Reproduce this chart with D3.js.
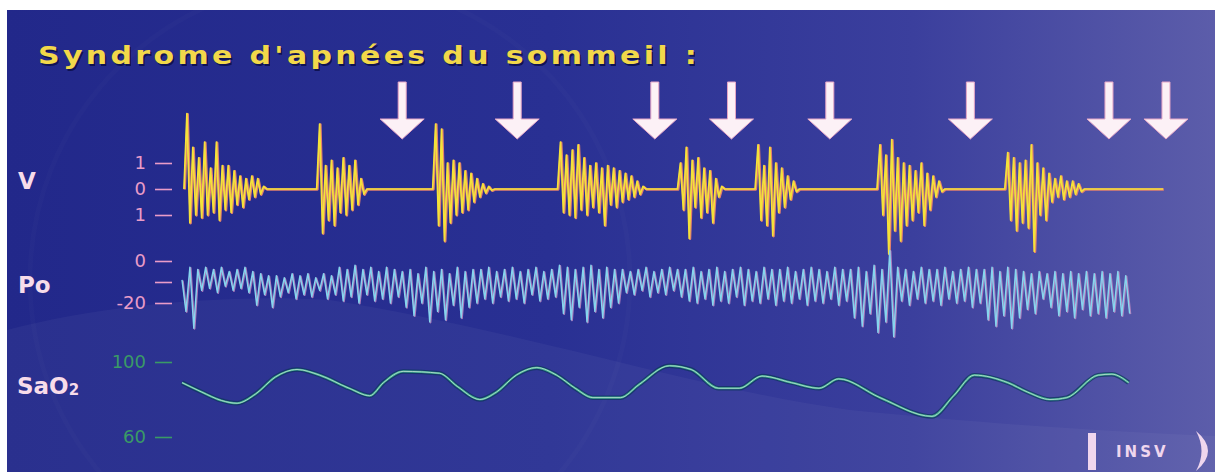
<!DOCTYPE html>
<html>
<head>
<meta charset="utf-8">
<style>
    body { margin: 0; background: #ffffff; }
    text { font-family: "DejaVu Sans", Verdana, sans-serif; }
    .axis path.domain { display: none; }
</style>
</head>
<body>
<svg width="1215" height="472" id="chart"></svg>

<script charset="utf-8" src="https://cdn.jsdelivr.net/npm/d3@7/dist/d3.min.js"></script>
<script charset="utf-8">

// time in seconds along the recording
var title = "Syndrome d'apnées du sommeil :";

// ventilation bursts (V): start time and samples taken every 0.3 s
var burstStart = [0.2, 13.7, 25.5, 38.2, 50.4, 58.3, 70.7, 83.7];
var burstStep = 0.3;
var burstValues = [
    [0, 2.9, -1.3, 1.6, -1.0, 1.2, -1.1, 1.8, -1.0, 0.8, -0.9, 1.8, -1.2, 0.9, -0.8, 0.9, -0.9, 0.7, -0.6, 0.5, -0.7, 0.4, -0.4, 0.5, -0.3, 0.4, -0.2, 0.1, 0],
    [0, 2.5, -1.7, 0.9, -1.2, 1.1, -1.4, 0.8, -0.9, 1.2, -1.0, 0.9, -0.8, 1.1, -0.6, 0.4, -0.2, 0],
    [0, 2.5, -1.4, 2.3, -2.0, 1.0, -1.3, 1.1, -1.0, 1.0, -0.9, 0.7, -0.8, 0.6, -0.5, 0.4, -0.3, 0.2, -0.15, 0.1, -0.05, 0],
    [0, 1.8, -0.9, 1.3, -1.0, 1.5, -1.1, 1.7, -0.8, 1.2, -1.0, 0.9, -0.7, 1.0, -0.9, 0.8, -1.4, 0.9, -0.6, 0.8, -0.7, 0.7, -0.5, 0.6, -0.4, 0.5, -0.3, 0.3, -0.2, 0.1, 0],
    [0, 1.0, -0.8, 1.6, -1.9, 1.1, -0.7, 1.2, -1.1, 0.8, -0.9, 0.7, -1.3, 0.4, -0.3, 0.1, 0],
    [0, 1.7, -1.2, 0.9, -1.4, 1.6, -1.8, 1.0, -0.9, 0.8, -0.7, 0.5, -0.4, 0.3, -0.1, 0],
    [0, 1.7, -1.0, 1.3, -2.5, 1.9, -1.6, 1.2, -2.0, 1.0, -1.4, 0.9, -1.2, 0.7, -0.9, 1.0, -1.4, 0.6, -0.8, 0.5, -0.3, 0.3, -0.1, 0],
    [0, 1.4, -1.2, 1.2, -1.6, 1.0, -1.3, 1.1, -1.5, 1.7, -2.4, 1.0, -1.0, 0.8, -1.2, 0.6, -0.5, 0.4, -0.3, 0.5, -0.4, 0.3, -0.3, 0.3, -0.2, 0.2, -0.1, 0]
];
var ventEnd = 99.8;

// oesophageal pressure (Po, cmH2O), one sample every 0.4 s from t = 0
var poStep = 0.4;
var poValues = [
    -9, -24, -3, -32,
    -4, -14, -3, -13, -4, -15, -3, -12, -5, -14, -4, -13, -3, -15,
    -5, -21, -6, -16, -7, -22,
    -7, -17, -8, -15, -6, -18, -7, -16, -6, -17, -8, -14, -6, -18, -7, -16,
    -3, -19, -4, -17, -2, -20, -4, -16, -3, -19, -5, -18, -3, -20, -4, -17,
    -5, -22, -4, -26, -6, -20, -3, -29, -5, -24, -4, -28, -6, -21, -3, -27, -5, -22, -4, -20,
    -4, -18, -3, -20, -5, -17, -4, -19, -3, -18, -5, -20, -4, -16, -3, -19, -5, -18, -4, -17,
    -2, -25, -3, -28, -4, -22, -3, -29, -2, -24, -4, -27, -3, -22, -4, -20,
    -4, -15, -5, -16, -4, -14, -3, -17, -5, -15, -4, -16, -3, -14, -4, -17,
    -4, -19, -3, -20, -5, -18, -4, -21, -3, -19, -5, -20, -4, -17, -3, -21, -4, -19, -5, -20,
    -3, -18, -4, -21, -4, -19, -3, -20, -5, -18, -4, -21, -3, -19, -4, -20, -5, -18, -3, -21, -4, -19,
    -4, -27, -3, -31, -5, -25, -2, -34, -4, -29, 5, -36,
    -3, -19, -4, -21, -5, -18, -3, -20, -4, -19, -4, -21, -3, -18, -5, -20, -4, -19, -3, -22, -4, -20,
    -4, -28, -3, -31, -5, -26, -3, -32, -4, -27,
    -5, -23, -6, -25, -5, -18, -6, -22, -5, -26, -6, -24, -5, -27, -6, -23, -5, -26, -6, -25, -5, -27, -6, -24, -5, -26, -7, -25
];

// oxygen saturation (SaO2, %)
var sao2Time = [0, 2, 4, 5.6, 7.5, 9.5, 11.7, 14, 17, 19.1, 20.5, 22.5, 26.2, 28, 30.3, 32, 34, 36.1, 38.1, 40, 41.8, 44.6, 46.5, 49.6, 51.8, 54.6, 56.7, 59, 62, 64.8, 66.8, 71, 76.3, 78.5, 80.6, 84, 86, 88.3, 90, 93.2, 94.6, 96.3];
var sao2Values = [89, 84, 79.5, 78, 83, 92, 96, 93, 86, 82, 89, 95, 94, 87, 80, 84, 93, 97, 93, 86, 81, 81, 88, 98, 96, 86, 86, 92.5, 89, 86, 91, 81, 71, 82, 93, 89, 84, 80, 81, 93, 93.5, 89];

// apnoea markers
var apneaTimes = [22.4, 34.1, 48.1, 55.9, 65.9, 80.2, 94.3, 100.1];

// axis ticks
var vTicks = [1, 0, -1];
var poTicks = [0, -10, -20];
var sao2Ticks = [100, 60];

var svg = d3.select("#chart"),
    width = +svg.attr("width"),
    height = +svg.attr("height");

var x = d3.scaleLinear().domain([0, 100]).range([182, 1165]);
var yV = d3.scaleLinear().domain([-3, 3]).range([267, 111]);
var yPo = d3.scaleLinear().domain([-40, 10]).range([345, 240]);
var ySa = d3.scaleLinear().domain([60, 100]).range([437, 362]);

// background
var defs = svg.append("defs");
var grad = defs.append("linearGradient").attr("id", "bg").attr("x1", "0").attr("x2", "1").attr("y1", "0").attr("y2", "0");
grad.append("stop").attr("offset", "0").attr("stop-color", "#22288a");
grad.append("stop").attr("offset", "0.45").attr("stop-color", "#293093");
grad.append("stop").attr("offset", "0.75").attr("stop-color", "#3b3f9d");
grad.append("stop").attr("offset", "1").attr("stop-color", "#5c5daa");

var glow = defs.append("filter").attr("id", "soft").attr("x", "-10%").attr("y", "-10%").attr("width", "120%").attr("height", "120%");
glow.append("feGaussianBlur").attr("stdDeviation", 0.6);

svg.append("rect").attr("width", width).attr("height", height).attr("fill", "#ffffff");
svg.append("rect").attr("x", 7).attr("y", 10).attr("width", width - 7).attr("height", height - 10).attr("fill", "url(#bg)");

// faint lighter band low on the slide
svg.append("path")
    .attr("d", "M7,472 L7,330 C120,300 250,295 330,300 C520,330 700,390 850,410 C1000,425 1120,432 1215,436 L1215,472 Z")
    .attr("fill", "#ffffff").attr("opacity", 0.04);
svg.append("circle").attr("cx", 330).attr("cy", 280).attr("r", 300)
    .attr("fill", "none").attr("stroke", "#ffffff").attr("stroke-opacity", 0.015).attr("stroke-width", 5);

// title, drawn wide like the slide's font
var titleG = svg.append("g").attr("transform", "translate(38,64) scale(1.25,1)")
    .attr("font-size", 24).attr("font-weight", "bold");
titleG.append("text").attr("x", 1.2).attr("y", 1.6)
    .attr("textLength", 527).attr("lengthAdjust", "spacing")
    .attr("fill", "#0c0f4a").attr("opacity", 0.85)
    .text(title);
titleG.append("text").attr("x", 0).attr("y", 0)
    .attr("textLength", 527).attr("lengthAdjust", "spacing")
    .attr("fill", "#f2d84a")
    .text(title);

// arrows
svg.append("g").selectAll("path")
    .data(apneaTimes)
    .enter().append("path")
    .attr("d", function(d) {
        var cx = x(d);
        return "M" + (cx - 4) + ",82 L" + (cx + 4) + ",82 L" + (cx + 4) + ",119 L" + (cx + 22) + ",119 L" + cx + ",139 L" + (cx - 22) + ",119 L" + (cx - 4) + ",119 Z";
    })
    .attr("fill", "#fcf1f6")
    .attr("stroke", "#e6a6c6")
    .attr("stroke-width", 1)
    .attr("filter", "url(#soft)");

// row labels
var labels = svg.append("g").attr("font-weight", "bold").attr("fill", "#f7dcea").attr("font-size", 23);
labels.append("text").attr("x", 18).attr("y", 189).text("V");
labels.append("text").attr("x", 18).attr("y", 293).text("Po");
var sa = labels.append("text").attr("x", 17).attr("y", 394).text("SaO");
sa.append("tspan").attr("font-size", 15).attr("dy", 1).text("2");

// axes
function styleAxis(g, color) {
    g.attr("class", "axis");
    g.selectAll(".tick line").attr("stroke", color).attr("stroke-width", 1.6);
    g.selectAll(".tick text").attr("fill", color).attr("font-size", 18)
        .attr("font-family", "'DejaVu Sans', Verdana, sans-serif");
}

svg.append("g").attr("transform", "translate(172,0)")
    .call(d3.axisLeft(yV).tickValues(vTicks).tickSize(17).tickPadding(9).tickFormat(function(d) { return Math.abs(d); }))
    .call(styleAxis, "#e99cc8");

svg.append("g").attr("transform", "translate(172,0)")
    .call(d3.axisLeft(yPo).tickValues(poTicks).tickSize(17).tickPadding(9).tickFormat(function(d) { return d === -10 ? "" : String(d); }))
    .call(styleAxis, "#e99cc8");

svg.append("g").attr("transform", "translate(172,0)")
    .call(d3.axisLeft(ySa).tickValues(sao2Ticks).tickSize(17).tickPadding(9).tickFormat(function(d) { return d; }))
    .call(styleAxis, "#3a9a66");

// V trace: bursts joined by flat apnoea segments
var ventPoints = [];
burstValues.forEach(function(vals, i) {
    vals.forEach(function(v, j) {
        ventPoints.push([burstStart[i] + j * burstStep, v]);
    });
});
ventPoints.push([ventEnd, 0]);

var ventLine = d3.line()
    .x(function(d) { return x(d[0]); })
    .y(function(d) { return yV(d[1]); });

svg.append("path").datum(ventPoints)
    .attr("d", ventLine)
    .attr("transform", "translate(0.8,0.5)")
    .attr("fill", "none").attr("stroke", "#e2826e").attr("stroke-width", 2.4).attr("stroke-linejoin", "round");
svg.append("path").datum(ventPoints)
    .attr("d", ventLine)
    .attr("fill", "none").attr("stroke", "#f4e23a").attr("stroke-width", 1.7).attr("stroke-linejoin", "round");

// Po trace
var poPoints = poValues.map(function(v, i) { return [i * poStep, v]; });
var poLine = d3.line()
    .x(function(d) { return x(d[0]); })
    .y(function(d) { return yPo(d[1]); });

svg.append("path").datum(poPoints)
    .attr("d", poLine)
    .attr("transform", "translate(0.8,0.6)")
    .attr("fill", "none").attr("stroke", "#c98cc4").attr("stroke-width", 1.8).attr("stroke-opacity", 0.8).attr("stroke-linejoin", "round");
svg.append("path").datum(poPoints)
    .attr("d", poLine)
    .attr("fill", "none").attr("stroke", "#86d6ee").attr("stroke-width", 1.4).attr("stroke-linejoin", "round");

// SaO2 trace
var saPoints = sao2Time.map(function(t, i) { return [t, sao2Values[i]]; });
var saLine = d3.line()
    .curve(d3.curveMonotoneX)
    .x(function(d) { return x(d[0]); })
    .y(function(d) { return ySa(d[1]); });

svg.append("path").datum(saPoints)
    .attr("d", saLine)
    .attr("fill", "none").attr("stroke", "#0b3558").attr("stroke-width", 4.5).attr("stroke-opacity", 0.7);
svg.append("path").datum(saPoints)
    .attr("d", saLine)
    .attr("fill", "none").attr("stroke", "#3aa58c").attr("stroke-width", 2.2);
svg.append("path").datum(saPoints)
    .attr("d", saLine)
    .attr("fill", "none").attr("stroke", "#c4e6d6").attr("stroke-width", 0.8);

// INSV logo
var logo = svg.append("g").attr("fill", "#efd6ee");
logo.append("rect").attr("x", 1088).attr("y", 433).attr("width", 8).attr("height", 37);
logo.append("text").attr("x", 1116).attr("y", 457)
    .attr("font-size", 15).attr("font-weight", "bold").attr("letter-spacing", 3)
    .text("INSV");
logo.append("path").attr("d", "M1196,431 Q1220,451 1196,471 Q1207,451 1196,431 Z");

</script>
</body>
</html>
